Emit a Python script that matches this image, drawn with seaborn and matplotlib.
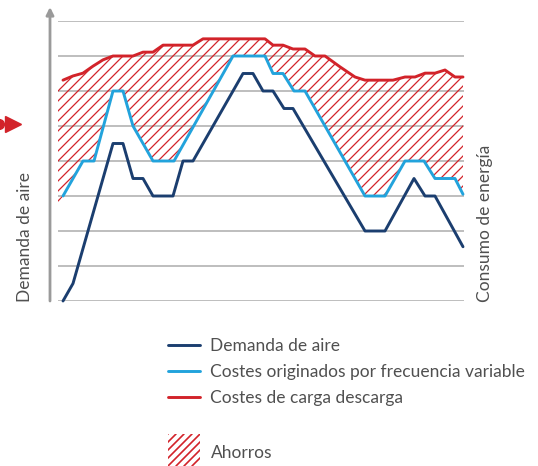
import matplotlib
matplotlib.use("Agg")
import matplotlib.pyplot as plt
import numpy as np
import pandas as pd
import seaborn as sns
from matplotlib.lines import Line2D
from matplotlib.patches import Polygon, Rectangle

# values (x = time steps, y = grid units 0..8)
demanda_x = [5, 15, 55, 65, 75, 85, 95, 115, 125, 135, 185, 195, 205, 215, 226, 235, 307, 327, 356, 367, 377, 405]
demanda_y = [0, 0.5, 4.5, 4.5, 3.5, 3.5, 3, 3, 4, 4, 6.5, 6.5, 6, 6, 5.5, 5.5, 2, 2, 3.5, 3, 3, 1.55]

variable_x = [5, 25, 36, 55, 65, 75, 95, 116, 175, 207, 215, 225, 236, 247, 307, 327, 347, 366, 377, 397, 405]
variable_y = [3, 4, 4, 6, 6, 5, 4, 4, 7, 7, 6.5, 6.5, 6, 6, 3, 3, 4, 4, 3.5, 3.5, 3.05]

carga_x = [5, 15, 25, 35, 45, 55, 75, 85, 95, 105, 135, 145, 207, 215, 225, 235, 247, 257, 267, 282,
           297, 307, 335, 347, 357, 367, 377, 387, 397, 405]
carga_y = [6.31, 6.43, 6.51, 6.71, 6.89, 7, 7, 7.11, 7.11, 7.31, 7.31, 7.49, 7.49, 7.31, 7.31, 7.2,
           7.2, 7, 7, 6.69, 6.4, 6.31, 6.31, 6.4, 6.4, 6.51, 6.51, 6.6, 6.4, 6.4]

labels = ["Demanda de aire", "Costes originados por frecuencia variable", "Costes de carga descarga"]
colors = ["#1b3e6f", "#22a3dc", "#d2232a"]
RED = colors[2]
GRID = "#b3b3b3"
TXT = "#505050"

sns.set_style("white")
plt.rcParams["font.family"] = ["Lato", "DejaVu Sans"]

fig = plt.figure(figsize=(5.38, 4.66), dpi=100)
W, H = 538, 466
ax = fig.add_axes([58 / W, 1 - 301 / H, 406 / W, 280 / H])
ax.set_xlim(0, 406)
ax.set_ylim(0, 8)

# gridlines
for g in range(9):
    ax.axhline(g, color=GRID, lw=1.2, zorder=0)

# savings area between the two cost curves, hatched with thin 45deg lines
poly_x = [0] + carga_x + variable_x[::-1] + [0]
poly_y = [6.03] + carga_y + variable_y[::-1] + [2.77]
area = Polygon(np.column_stack([poly_x, poly_y]), closed=True, facecolor="none",
               edgecolor="none", transform=ax.transData)
ax.add_patch(area)
px_per_y = 35.0  # one grid step = 35 px, one x unit = 1 px
for c in np.arange(-300, 420, 10):
    hx = np.array([c, c + 8 * px_per_y])
    hl, = ax.plot(hx, (hx - c) / px_per_y, color=RED, lw=0.9, zorder=1)
    hl.set_clip_path(area)

frames = [
    pd.DataFrame({"x": demanda_x, "y": demanda_y, "serie": labels[0]}),
    pd.DataFrame({"x": variable_x, "y": variable_y, "serie": labels[1]}),
    pd.DataFrame({"x": carga_x, "y": carga_y, "serie": labels[2]}),
]
for df, c in zip(frames, colors):
    sns.lineplot(data=df, x="x", y="y", color=c, lw=2.1, estimator=None, sort=False,
                 ax=ax, legend=False, zorder=3)
for l in ax.lines[-3:]:
    l.set_clip_on(False)

for s in ax.spines.values():
    s.set_visible(False)
ax.set_xticks([])
ax.set_yticks([])
ax.set_xlabel("")
ax.set_ylabel("")

# vertical axis arrow
ax.annotate("", xy=(-8, 8.4), xytext=(-8, 0), xycoords="data", annotation_clip=False,
            arrowprops=dict(arrowstyle="-|>", color="#9a9a9a", lw=2, mutation_scale=11,
                            shrinkA=0, shrinkB=0))

# red pointer at the left edge
ax.plot([-45], [5.06], marker=">", color=RED, markersize=12, clip_on=False)
ax.plot([-59], [5.06], marker="o", color=RED, markersize=7, clip_on=False)

fig.text(25 / W, 1 - 237 / H, "Demanda de aire", rotation=90, ha="center", va="center",
         fontsize=12.5, color=TXT)
fig.text(485 / W, 1 - 223 / H, "Consumo de energía", rotation=90, ha="center", va="center",
         fontsize=12.5, color=TXT)

# legend for the lines
handles = [Line2D([], [], color=c, lw=2.1) for c in colors]
leg = fig.legend(handles, labels, loc="upper left", bbox_to_anchor=(168 / W, 1 - 338 / H),
                 frameon=False, fontsize=12.5, handlelength=1.85, handletextpad=0.55,
                 labelspacing=0.59, borderaxespad=0, borderpad=0)
for t in leg.get_texts():
    t.set_color(TXT)

# "Ahorros" swatch
sw = fig.add_axes([168 / W, 0, 32 / W, 32 / H])
sw.set_xlim(0, 32)
sw.set_ylim(0, 32)
sw.axis("off")
box = Rectangle((0, 0), 32, 32, facecolor="none", edgecolor="none")
sw.add_patch(box)
for c in np.arange(-32, 32, 8):
    sl, = sw.plot([c, c + 32], [0, 32], color=RED, lw=1.2)
    sl.set_clip_path(box)
fig.text(211 / W, 1 - 453 / H, "Ahorros", ha="left", va="center", fontsize=12.5, color=TXT)

fig.savefig("out.png", dpi=100)
